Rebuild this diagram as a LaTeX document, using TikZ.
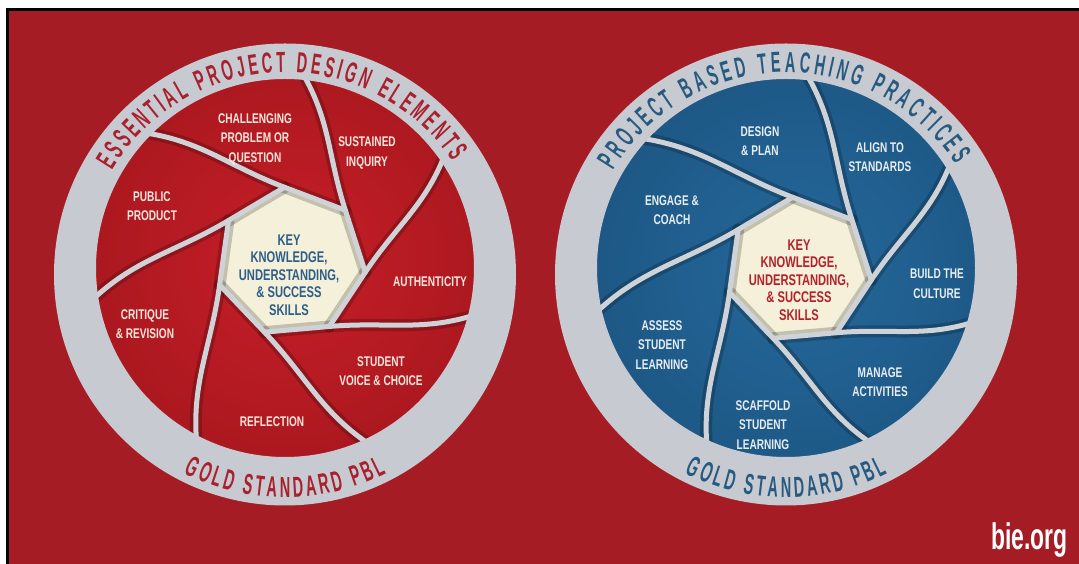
\documentclass[tikz,border=0pt]{standalone}
\usepackage{fontspec}
\usetikzlibrary{calc,intersections,decorations.text}

% condensed bold faces
\newfontfamily\bladeface[FakeStretch=0.72]{Liberation Sans Bold}
\newfontfamily\ringface[FakeStretch=0.5]{Liberation Sans Bold}
\newfontfamily\logoface[FakeStretch=0.62]{Liberation Sans Bold}
\newcommand\ringfont{\ringface\fontsize{29}{29}\selectfont}

\definecolor{bgred}{HTML}{A61C24}
\definecolor{ringgray}{HTML}{C7CBD1}
\definecolor{linegray}{HTML}{CFD3D8}
\definecolor{cream}{HTML}{F5F0DA}
\definecolor{redA}{HTML}{C71E27}
\definecolor{redB}{HTML}{8F1218}
\definecolor{blueA}{HTML}{24699C}
\definecolor{blueB}{HTML}{17476F}
\definecolor{ringred}{HTML}{A9202E}
\definecolor{ringblue}{HTML}{285A80}
\definecolor{keyblue}{HTML}{2D5F88}
\definecolor{keyred}{HTML}{B3222B}
\definecolor{bladetxtR}{HTML}{F6E6DC}
\definecolor{bladetxtB}{HTML}{E8EDF1}

\tikzset{
  bladeline/.style={draw=linegray, line width=5, line cap=round, line join=round},
  bladeshadow/.style={draw=black, draw opacity=0.2, line width=12, line cap=round, line join=round},
  bladetext/.style={font=\bladeface\fontsize{14}{19.5}\selectfont, align=center, inner sep=0},
  redlabel/.style={bladetext, text=bladetxtR},
  bluelabel/.style={bladetext, text=bladetxtB},
  keytext/.style={font=\bladeface\fontsize{15.5}{17.5}\selectfont, align=center, inner sep=0},
  ringband/.style={fill=ringgray, even odd rule},
}

% aperture: #1 prefix, #2 disk centre, #3 heptagon centre, #4 heptagon radius,
% #5 inner blade colour, #6 outer blade colour
\newcommand\iris[6]{%
  \coordinate (#1disk) at (#2);
  \coordinate (#1hc) at (#3);
  \begin{scope}
    \clip (#1disk) circle[radius=196];
    \shade[inner color=#5, outer color=#6] (#1hc) circle[radius=400];
  \end{scope}
  \foreach \k in {0,...,6}{
    \coordinate (#1v\k) at ($(#1hc)+({95-360/7*\k}:#4)$);
  }
  \fill[cream] (#1v0) -- (#1v1) -- (#1v2) -- (#1v3) -- (#1v4) -- (#1v5) -- (#1v6) -- cycle;
  \path[name path=#1rim] (#1disk) circle[radius=200];
  \foreach \k in {0,...,6}{
    \pgfmathtruncatemacro\nxt{mod(\k+1,7)}
    \path[name path=#1ext] (#1v\nxt) -- ($(#1v\nxt)!6!(#1v\k)$);
    \path[name intersections={of=#1ext and #1rim, by={#1p\k}}];
  }
  \foreach \k in {0,...,6}{
    \pgfmathtruncatemacro\nxt{mod(\k+1,7)}
    \draw[bladeshadow] (#1p\k) to[relative, out=14, in=180] (#1v\k) -- (#1v\nxt);
  }
  \foreach \k in {0,...,6}{
    \pgfmathtruncatemacro\nxt{mod(\k+1,7)}
    \draw[bladeline] (#1p\k) to[relative, out=14, in=180] (#1v\k) -- (#1v\nxt);
  }
}

\begin{document}
\begin{tikzpicture}[x=1pt, y=1pt]
  \useasboundingbox (0,0) rectangle (1079,564);
  % page, frame and red field
  \fill[white] (0,0) rectangle (1079,564);
  \fill[black] (5.5,0) rectangle (1079,555.5);
  \fill[bgred] (8.5,0) rectangle (1079,552.5);

  % ---------- left wheel ----------
  \coordinate (Lout) at (285,289.5);
  \iris{L}{285,296}{291,302}{75}{redA}{redB}
  \fill[ringband] (Lout) circle[radius=231] (Ldisk) circle[radius=189];
  \path[decorate, decoration={text along path, text={|\ringfont|ESSENTIAL PROJECT DESIGN ELEMENTS},
        text align=fit to path, text color=ringred}]
    ($(Lout)+(149:202)$) arc[start angle=149, end angle=34, radius=202];
  \path[decorate, decoration={text along path, text={|\ringfont|GOLD STANDARD PBL},
        text align=fit to path, text color=ringred}]
    ($(Lout)+(243:223)$) arc[start angle=243, end angle=297, radius=223];

  \node[redlabel] (challenge) at (255,425) {CHALLENGING\\PROBLEM OR\\QUESTION};
  \node[redlabel] (inquiry) at (367,411) {SUSTAINED\\INQUIRY};
  \node[redlabel] (public) at (152,358) {PUBLIC\\PRODUCT};
  \node[redlabel] (authentic) at (430,282) {AUTHENTICITY};
  \node[redlabel] (critique) at (145,240) {CRITIQUE\\\& REVISION};
  \node[redlabel] (voice) at (381,193) {STUDENT\\VOICE \& CHOICE};
  \node[redlabel] (reflect) at (272,142) {REFLECTION};
  \node[keytext, text=keyblue] (Lkey) at (289,289) {KEY\\KNOWLEDGE,\\UNDERSTANDING,\\\& SUCCESS\\SKILLS};

  % ---------- right wheel ----------
  \coordinate (Rout) at (786,289.5);
  \iris{R}{786,296}{799,294}{73}{blueA}{blueB}
  \fill[ringband] (Rout) circle[radius=231] (Rdisk) circle[radius=189];
  \path[decorate, decoration={text along path, text={|\ringfont|PROJECT BASED TEACHING PRACTICES},
        text align=fit to path, text color=ringblue}]
    ($(Rout)+(149:202)$) arc[start angle=149, end angle=33, radius=202];
  \path[decorate, decoration={text along path, text={|\ringfont|GOLD STANDARD PBL},
        text align=fit to path, text color=ringblue}]
    ($(Rout)+(243:223)$) arc[start angle=243, end angle=297, radius=223];

  \node[bluelabel] (design) at (760,423) {DESIGN\\\& PLAN};
  \node[bluelabel] (align) at (880,407) {ALIGN TO\\STANDARDS};
  \node[bluelabel] (engage) at (672,354) {ENGAGE \&\\COACH};
  \node[bluelabel] (culture) at (937,280) {BUILD THE\\CULTURE};
  \node[bluelabel] (assess) at (662,219) {ASSESS\\STUDENT\\LEARNING};
  \node[bluelabel] (manage) at (880,182) {MANAGE\\ACTIVITIES};
  \node[bluelabel] (scaffold) at (763,139) {SCAFFOLD\\STUDENT\\LEARNING};
  \node[keytext, text=keyred] (Rkey) at (799,284) {KEY\\KNOWLEDGE,\\UNDERSTANDING,\\\& SUCCESS\\SKILLS};

  \node[font=\logoface\fontsize{37}{37}\selectfont, text=white, anchor=base east, inner sep=0]
    (logo) at (1068,14) {bie.org};
\end{tikzpicture}
\end{document}
